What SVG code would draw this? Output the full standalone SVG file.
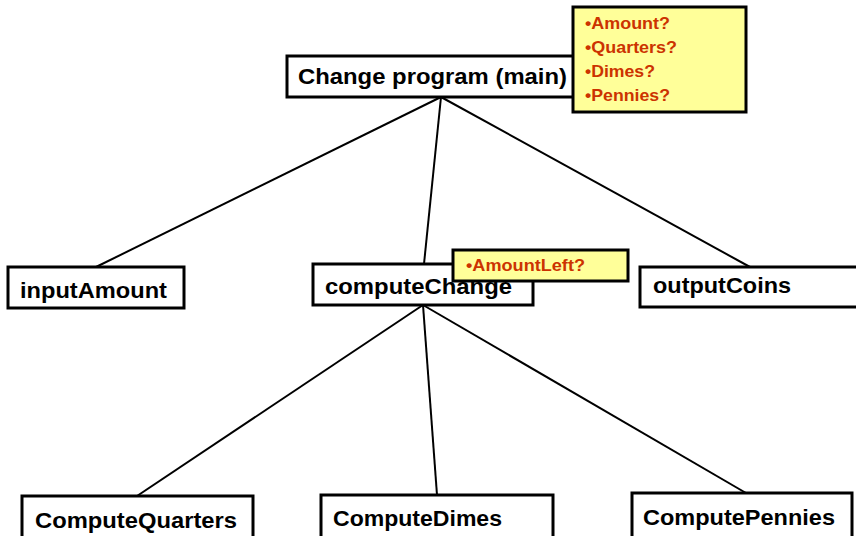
<svg xmlns="http://www.w3.org/2000/svg" width="856" height="536" viewBox="0 0 856 536">
<style>
.box{fill:#ffffff;stroke:#000000;stroke-width:3}
.note{fill:#ffff99;stroke:#000000;stroke-width:3}
.lbl{font-family:"Liberation Sans",Arial,sans-serif;font-weight:bold;font-size:22.5px;fill:#000000}
.nt{font-family:"Liberation Sans",Arial,sans-serif;font-weight:bold;font-size:17px;fill:#cc3300}
.con{stroke:#000000;stroke-width:2;fill:none}
</style>
<rect width="856" height="536" fill="#ffffff"/>
<g id="connectors">
<line class="con" x1="441" y1="97" x2="96" y2="267"/>
<line class="con" x1="441" y1="97" x2="424" y2="264"/>
<line class="con" x1="441" y1="97" x2="750" y2="267"/>
<line class="con" x1="423" y1="305" x2="137" y2="496"/>
<line class="con" x1="423" y1="305" x2="437" y2="495"/>
<line class="con" x1="423" y1="305" x2="746" y2="493"/>
</g>
<g id="main">
<rect class="box" x="287" y="56" width="300" height="41"/>
<text class="lbl" x="298" y="84" textLength="269" lengthAdjust="spacingAndGlyphs">Change program (main)</text>
</g>
<g id="mainNote">
<rect class="note" x="573" y="7" width="173" height="105"/>
<text class="nt" x="585" y="29" textLength="85" lengthAdjust="spacingAndGlyphs">•Amount?</text>
<text class="nt" x="585" y="53" textLength="92" lengthAdjust="spacingAndGlyphs">•Quarters?</text>
<text class="nt" x="585" y="77" textLength="70" lengthAdjust="spacingAndGlyphs">•Dimes?</text>
<text class="nt" x="585" y="101" textLength="85" lengthAdjust="spacingAndGlyphs">•Pennies?</text>
</g>
<g id="inputAmount">
<rect class="box" x="8" y="267" width="176" height="41"/>
<text class="lbl" x="20" y="298" textLength="147" lengthAdjust="spacingAndGlyphs">inputAmount</text>
</g>
<g id="computeChange">
<rect class="box" x="313" y="264" width="220" height="41"/>
<text class="lbl" x="325" y="294" textLength="187" lengthAdjust="spacingAndGlyphs">computeChange</text>
</g>
<g id="changeNote">
<rect class="note" x="453" y="250" width="175" height="31"/>
<text class="nt" x="466" y="271" textLength="119" lengthAdjust="spacingAndGlyphs">•AmountLeft?</text>
</g>
<g id="outputCoins">
<rect class="box" x="640" y="267" width="220" height="40"/>
<text class="lbl" x="653" y="293" textLength="138" lengthAdjust="spacingAndGlyphs">outputCoins</text>
</g>
<g id="computeQuarters">
<rect class="box" x="22" y="496" width="231" height="50"/>
<text class="lbl" x="35" y="528" textLength="202" lengthAdjust="spacingAndGlyphs">ComputeQuarters</text>
</g>
<g id="computeDimes">
<rect class="box" x="321" y="495" width="232" height="50"/>
<text class="lbl" x="333" y="526" textLength="169" lengthAdjust="spacingAndGlyphs">ComputeDimes</text>
</g>
<g id="computePennies">
<rect class="box" x="632" y="493" width="220" height="50"/>
<text class="lbl" x="643" y="525" textLength="192" lengthAdjust="spacingAndGlyphs">ComputePennies</text>
</g>
</svg>
